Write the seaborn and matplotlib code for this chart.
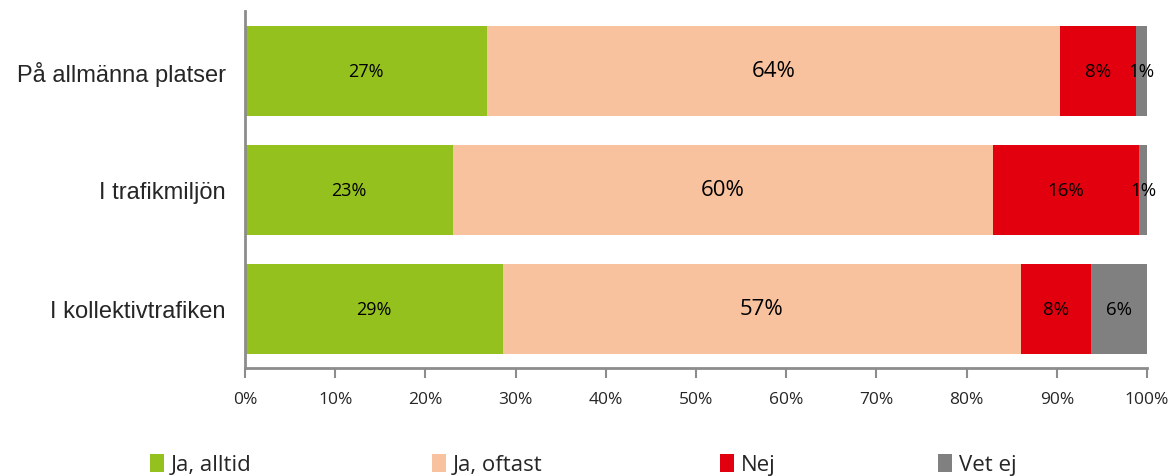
import matplotlib
matplotlib.use("Agg")
import matplotlib.pyplot as plt
import seaborn as sns
import pandas as pd
import numpy as np
from matplotlib.patches import Patch

categories = ["På allmänna platser", "I trafikmiljön", "I kollektivtrafiken"]
series_names = ["Ja, alltid", "Ja, oftast", "Nej", "Vet ej"]
ja_alltid = [26.8, 23.1, 28.6]
ja_oftast = [63.6, 59.8, 57.4]
nej = [8.4, 16.2, 7.8]
vet_ej = [1.2, 0.9, 6.2]
labels = [["27%", "64%", "8%", "1%"],
          ["23%", "60%", "16%", "1%"],
          ["29%", "57%", "8%", "6%"]]
colors = ["#95C11F", "#F9C29E", "#E2000F", "#808080"]
xticks = [0, 10, 20, 30, 40, 50, 60, 70, 80, 90, 100]

sns.set_theme(style="white")
plt.rcParams['font.family'] = ['Liberation Sans', 'DejaVu Sans']

W, H = 1174, 477
fig = plt.figure(figsize=(W / 100, H / 100), dpi=100)
ax = fig.add_axes([0.2087, 0.2254, 0.7683, 0.7484])

vals = np.array([ja_alltid, ja_oftast, nej, vet_ej])
cums = np.cumsum(vals, axis=0)
for i in range(3, -1, -1):
    df = pd.DataFrame({"cat": categories, "val": cums[i]})
    sns.barplot(data=df, x="val", y="cat", color=colors[i], orient="h",
                width=0.756, ax=ax, saturation=1, edgecolor="none")

label_sizes = [13, 16, 13.5, 13.5]
for r in range(3):
    for s in range(4):
        center = cums[s, r] - vals[s, r] / 2
        ax.text(center, r, labels[r][s], ha="center", va="center",
                fontsize=label_sizes[s], color="black", family="Open Sans")

ax.set_xlim(0, 100)
ax.set_ylim(2.5, -0.5)
ax.set_xticks(xticks)
ax.set_xticklabels([f"{t}%" for t in xticks], family="Open Sans", fontsize=12.5)
ax.set_xlabel("")
ax.set_ylabel("")
ax.tick_params(axis="y", labelsize=17, length=0, pad=14)
ax.tick_params(axis="x", length=7, width=1.5, color="#8C8C8C", direction="out", pad=9, bottom=True)
for sp in ["top", "right"]:
    ax.spines[sp].set_visible(False)
for sp in ["left", "bottom"]:
    ax.spines[sp].set_color("#8C8C8C")
    ax.spines[sp].set_linewidth(2)
ax.grid(False)

legend_x = [150, 432, 720, 938]
for c, name, lx in zip(colors, series_names, legend_x):
    leg = fig.legend([Patch(facecolor=c, edgecolor="none")], [name],
                     loc="center left", bbox_to_anchor=(lx / W, 0.024),
                     frameon=False, prop={"family": "Open Sans", "size": 16},
                     handlelength=0.65, handleheight=0.9, handletextpad=0.3,
                     borderpad=0, borderaxespad=0)

fig.savefig("out.png", dpi=100)
